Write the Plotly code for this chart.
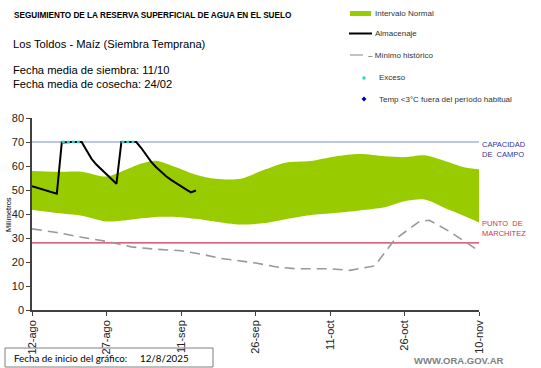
import plotly.graph_objects as go

# ---------------- data ----------------
tick_days = [0, 15, 30, 45, 60, 75, 90]
tick_labels = ["12-ago", "27-ago", "11-sep", "26-sep", "11-oct", "26-oct", "10-nov"]

band_days = [0, 5, 10, 15, 19, 22, 25, 29, 33, 37, 42, 47, 51, 56, 61, 66, 71, 75, 79, 83, 87, 90]
band_upper = [57.9, 57.6, 57.6, 55.6, 58.5, 61.0, 62.2, 59.5, 56.4, 54.7, 54.7, 58.6, 61.4, 62.1,
              64.0, 65.0, 64.1, 63.7, 64.5, 62.2, 59.5, 58.6]
band_lower = [41.8, 40.4, 39.3, 36.9, 37.4, 38.2, 38.8, 38.8, 38.0, 36.8, 35.6, 36.2, 37.8, 39.5,
              40.4, 41.5, 42.8, 45.3, 46.0, 42.6, 39.2, 36.5]

alm_days = list(range(0, 34))
alm_values = [51.6, 51.0, 50.3, 49.7, 49.1, 48.5, 69.8, 70.0, 70.0, 70.0, 70.0, 66.5, 63.0, 60.5,
              58.5, 56.5, 54.5, 52.6, 70.0, 70.0, 70.0, 70.0, 67.5, 64.5, 61.7, 59.5, 57.5, 55.7,
              54.2, 52.8, 51.5, 50.3, 49.0, 49.8]

exc_days_1 = [6, 7, 8, 9, 10]
exc_vals_1 = [70, 70, 70, 70, 70]
exc_days_2 = [18, 19, 20, 21]
exc_vals_2 = [70, 70, 70, 70]

min_days = [0, 5, 10, 15, 20, 25, 30, 34, 38, 45, 49, 53, 60, 64, 69, 73, 78, 80, 84, 90]
min_values = [33.8, 32.3, 30.3, 28.6, 26.3, 25.3, 24.7, 23.3, 21.5, 19.6, 18.0, 17.2, 17.2, 16.5,
              18.4, 29.3, 36.9, 37.4, 32.8, 24.6]

capacidad_campo = 70
punto_marchitez = 28

# ---------------- geometry helpers ----------------
W, H = 541, 368
L, R, T, B = 32, 62, 118, 58
PW, PH = W - L - R, H - T - B


def px(x):
    return (x - L) / PW


def py(y):
    return (H - B - y) / PH


fig = go.Figure()

fig.add_trace(go.Scatter(x=band_days, y=band_lower, mode="lines",
                         line=dict(width=0, shape="spline", smoothing=0.8, color="#99cc00"),
                         showlegend=False, hoverinfo="skip"))
fig.add_trace(go.Scatter(x=band_days, y=band_upper, mode="lines", fill="tonexty",
                         fillcolor="#99cc00",
                         line=dict(width=0, shape="spline", smoothing=0.8, color="#99cc00"),
                         showlegend=False, name="Intervalo Normal"))

fig.add_trace(go.Scatter(x=[0, 90], y=[capacidad_campo, capacidad_campo], mode="lines",
                         line=dict(color="#7b8fc7", width=1.2), showlegend=False, hoverinfo="skip"))
fig.add_trace(go.Scatter(x=[0, 90], y=[punto_marchitez, punto_marchitez], mode="lines",
                         line=dict(color="#cc3350", width=1.2), showlegend=False, hoverinfo="skip"))

fig.add_trace(go.Scatter(x=min_days, y=min_values, mode="lines",
                         line=dict(color="#999999", width=1.6, dash="10px,6px"),
                         showlegend=False, name="Mínimo histórico"))

fig.add_trace(go.Scatter(x=alm_days, y=alm_values, mode="lines",
                         line=dict(color="#000000", width=2),
                         showlegend=False, name="Almacenaje"))

for dx, dy in ((exc_days_1, exc_vals_1), (exc_days_2, exc_vals_2)):
    fig.add_trace(go.Scatter(x=dx, y=dy, mode="lines",
                             line=dict(color="#33cccc", width=2.5, dash="3px,2px"),
                             showlegend=False, name="Exceso"))

font_main = "Liberation Sans, Arial, sans-serif"
ann = []
shapes = []

# titles
ann.append(dict(x=px(12), y=py(15), text="<b>SEGUIMIENTO DE LA RESERVA SUPERFICIAL DE AGUA EN EL SUELO</b>",
                font=dict(size=8.2, color="#000000", family=font_main)))
ann.append(dict(x=px(11), y=py(44), text="Los Toldos - Maíz (Siembra Temprana)",
                font=dict(size=11.2, color="#000000", family=font_main)))
ann.append(dict(x=px(11), y=py(70), text="Fecha media de siembra: 11/10",
                font=dict(size=11.2, color="#000000", family=font_main)))
ann.append(dict(x=px(11), y=py(83.5), text="Fecha media de cosecha: 24/02",
                font=dict(size=11.2, color="#000000", family=font_main)))

# legend
leg_font = dict(size=8, color="#333333", family=font_main)
shapes.append(dict(type="rect", xref="paper", yref="paper", x0=px(350), x1=px(371),
                   y0=py(16), y1=py(11), fillcolor="#99cc00", line=dict(width=0)))
ann.append(dict(x=px(373), y=py(13.5), text="Intervalo Normal", font=leg_font))
shapes.append(dict(type="line", xref="paper", yref="paper", x0=px(349), x1=px(372),
                   y0=py(33.5), y1=py(33.5), line=dict(color="#000000", width=2)))
ann.append(dict(x=px(373), y=py(33.5), text="Almacenaje", font=leg_font))
shapes.append(dict(type="line", xref="paper", yref="paper", x0=px(350), x1=px(363),
                   y0=py(55), y1=py(55), line=dict(color="#999999", width=1.2)))
ann.append(dict(x=px(366), y=py(55), text="– Mínimo histórico", font=leg_font))
shapes.append(dict(type="rect", xref="paper", yref="paper", x0=px(362.5), x1=px(365.5),
                   y0=py(79.5), y1=py(76.5), fillcolor="#33cccc", line=dict(width=0)))
ann.append(dict(x=px(377), y=py(77.5), text="Exceso", font=leg_font))
dx0, dy0 = 364, 99
shapes.append(dict(type="path", xref="paper", yref="paper",
                   path=f"M {px(dx0-2.5)},{py(dy0)} L {px(dx0)},{py(dy0-2.5)} L {px(dx0+2.5)},{py(dy0)} "
                        f"L {px(dx0)},{py(dy0+2.5)} Z",
                   fillcolor="#000099", line=dict(width=0)))
ann.append(dict(x=px(377), y=py(99), text="Temp <3°C fuera del período habitual", font=leg_font))

# right labels
ann.append(dict(x=px(480), y=py(149), text="CAPACIDAD<br>DE  CAMPO",
                font=dict(size=7.5, color="#333399", family=font_main)))
ann.append(dict(x=px(480), y=py(228.5), text="PUNTO  DE<br>MARCHITEZ",
                font=dict(size=7.5, color="#cc3350", family=font_main)))

# y title
ann.append(dict(x=px(8), y=py(215), text="Milímetros", textangle=-90, xanchor="center",
                font=dict(size=7.5, color="#000000", family=font_main)))

# bottom box
shapes.append(dict(type="rect", xref="paper", yref="paper", x0=px(5), x1=px(213),
                   y0=py(367), y1=py(348), fillcolor="rgba(0,0,0,0)",
                   line=dict(color="#7f7f7f", width=1)))
ann.append(dict(x=px(12), y=py(357.5), text="Fecha de inicio del gráfico:",
                font=dict(size=9.8, color="#000000", family="Lato, sans-serif")))
ann.append(dict(x=px(138), y=py(357.5), text="12/8/2025",
                font=dict(size=9.8, color="#000000", family="Lato, sans-serif")))
ann.append(dict(x=px(412), y=py(360.5), text="<b>WWW.ORA.GOV.AR</b>",
                font=dict(size=9.5, color="#7f7f7f", family=font_main)))

for a in ann:
    a.setdefault("xref", "paper")
    a.setdefault("yref", "paper")
    a.setdefault("xanchor", "left")
    a.setdefault("yanchor", "middle")
    a.setdefault("showarrow", False)
    a.setdefault("align", "left")

fig.update_layout(
    width=W, height=H,
    margin=dict(l=L, r=R, t=T, b=B, pad=0),
    paper_bgcolor="white", plot_bgcolor="white",
    showlegend=False,
    annotations=ann, shapes=shapes,
    xaxis=dict(range=[0, 90], tickvals=tick_days, ticktext=tick_labels, tickangle=-90,
               showgrid=False, zeroline=False, showline=True, linecolor="#404040", linewidth=1.5,
               ticks="outside", ticklen=4, tickcolor="#404040",
               tickfont=dict(size=11, color="#222222", family=font_main)),
    yaxis=dict(range=[0, 80], tickvals=[0, 10, 20, 30, 40, 50, 60, 70, 80],
               showgrid=False, zeroline=False, showline=True, linecolor="#404040", linewidth=1.5,
               ticks="outside", ticklen=4, tickcolor="#404040",
               tickfont=dict(size=11, color="#222222", family=font_main)),
)

fig.write_html("out.html", config={"displayModeBar": False},
               post_script="document.body.style.margin='0px';document.body.style.padding='0px';"
                           "document.body.style.overflow='hidden';")
